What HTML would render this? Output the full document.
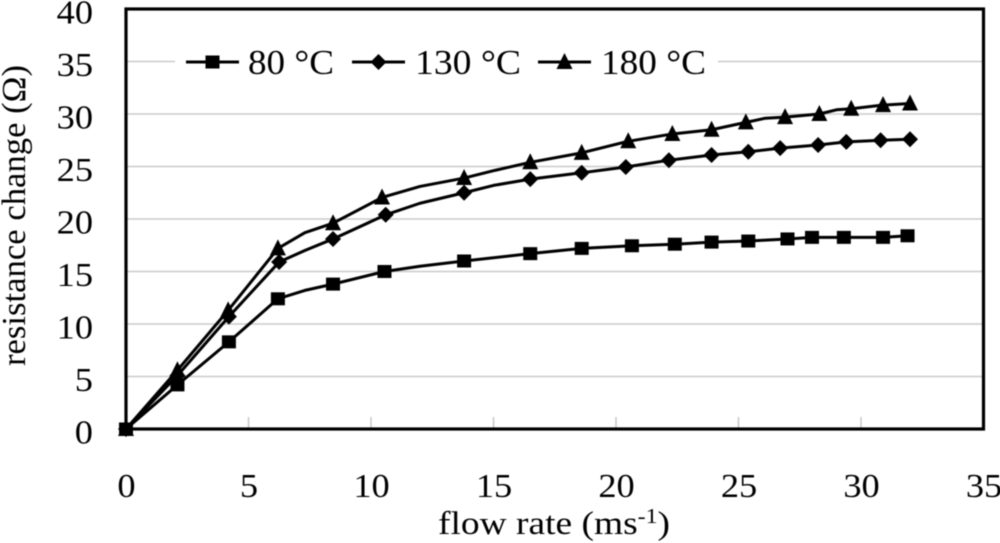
<!DOCTYPE html>
<html lang="en">
<head>
<meta charset="utf-8">
<title>Resistance change vs flow rate</title>
<style>
html,body{margin:0;padding:0;background:#fff;width:1000px;height:543px;overflow:hidden}
svg{display:block}
text{font-family:"Liberation Serif","DejaVu Serif",serif;fill:#000}
</style>
</head>
<body>
<svg id="chart" xmlns="http://www.w3.org/2000/svg" width="1000" height="543" viewBox="0 0 1000 543">
  <g id="plot" style="filter:blur(0.4px)"></g>
</svg>
<script>
const xTicks = [0, 5, 10, 15, 20, 25, 30, 35];
const yTicks = [0, 5, 10, 15, 20, 25, 30, 35, 40];

const flow80 = [0, 2.1, 4.2, 6.2, 7.3, 8.45, 10.55, 12, 13.8, 16.5, 18.6, 20.65, 22.4, 23.9, 25.4, 27, 28, 29.3, 30.9, 31.9];
const res80 = [0, 4.2, 8.3, 12.4, 13.2, 13.8, 15, 15.5, 16, 16.7, 17.2, 17.45, 17.6, 17.8, 17.9, 18.1, 18.25, 18.25, 18.25, 18.4];
const unmarked80 = [7.3, 12];

const flow130 = [0, 2.1, 4.2, 6.25, 7.3, 8.45, 10.6, 12, 13.8, 15, 16.5, 18.6, 20.4, 22.16, 23.9, 25.4, 26.7, 28.25, 29.4, 30.8, 32];
const res130 = [0, 5.1, 10.7, 15.9, 17.0, 18.1, 20.4, 21.5, 22.5, 23.2, 23.8, 24.4, 24.95, 25.6, 26.1, 26.4, 26.75, 27.05, 27.35, 27.5, 27.6];
const unmarked130 = [7.3, 12, 15];

const flow180 = [0, 2.1, 4.17, 6.2, 7.3, 8.45, 10.45, 12, 13.8, 15, 16.5, 18.6, 20.5, 22.3, 23.9, 25.3, 26.1, 26.9, 28.3, 29.0, 29.6, 30.9, 32];
const res180 = [0, 5.6, 11.3, 17.2, 18.7, 19.6, 22.05, 23.1, 23.9, 24.6, 25.4, 26.3, 27.4, 28.1, 28.5, 29.2, 29.6, 29.7, 30, 30.4, 30.5, 30.85, 31];
const unmarked180 = [7.3, 12, 15, 26.1, 29.0];

const legendLabels = ['80 °C', '130 °C', '180 °C'];

const NS = 'http://www.w3.org/2000/svg';
const plot = document.getElementById('plot');
const X0 = 126, X1 = 983.5, Y0 = 429, Y1 = 9;
const xScale = v => X0 + (v - 0) * (X1 - X0) / 35;
const yScale = v => Y0 - (v - 0) * (Y0 - Y1) / 40;

function make(tag, attrs, parent) {
  const el = document.createElementNS(NS, tag);
  for (const k in attrs) el.setAttribute(k, attrs[k]);
  (parent || plot).appendChild(el);
  return el;
}
function drawMarker(kind, cx, cy, parent) {
  if (kind === 'square') {
    return make('rect', {x: cx - 7, y: cy - 6.5, width: 14, height: 13, fill: '#000'}, parent);
  }
  if (kind === 'diamond') {
    return make('polygon', {points: [cx, cy - 8, cx + 8, cy, cx, cy + 8, cx - 8, cy].join(','), fill: '#000'}, parent);
  }
  return make('polygon', {points: [cx, cy - 9, cx + 8, cy + 7, cx - 8, cy + 7].join(','), fill: '#000'}, parent);
}

/* gridlines */
yTicks.slice(1, -1).forEach(t => {
  const g = make('line', {x1: X0, x2: X1, y1: yScale(t), y2: yScale(t), stroke: '#c9c9c9', 'stroke-width': 1.4});
  
  
});

/* x tick marks */
xTicks.slice(1, -1).forEach(t => {
  const k = make('line', {x1: xScale(t), x2: xScale(t), y1: Y0 - 12, y2: Y0, stroke: '#c0c0c0', 'stroke-width': 1.3});
  
  
});

/* frame */
const frame = make('rect', {x: X0, y: Y1, width: X1 - X0, height: Y0 - Y1, fill: 'none', stroke: '#000', 'stroke-width': 3.2});



/* tick labels */
const SX = 1.07;
yTicks.forEach(t => {
  const l = make('text', {'text-anchor': 'end', 'font-size': 34, transform: `translate(93,${yScale(t) + 14.5}) scale(${SX},1)`});
  l.textContent = t;
  
  
});
xTicks.forEach(t => {
  const l = make('text', {'text-anchor': 'middle', 'font-size': 34, transform: `translate(${xScale(t) + 0.5},497) scale(${SX},1)`});
  l.textContent = t;
  
  
});

/* axis titles */
const yTitle = make('text', {'font-size': 34, 'text-anchor': 'middle', textLength: 301, lengthAdjust: 'spacingAndGlyphs', transform: 'translate(25,215.5) rotate(-90)'});
yTitle.textContent = 'resistance change (Ω)';



const xTitle = make('text', {'font-size': 33, x: 438, y: 534, textLength: 232, lengthAdjust: 'spacingAndGlyphs'});


xTitle.appendChild(document.createTextNode('flow rate (ms'));
const sup = make('tspan', {dy: -11, 'font-size': 21}, xTitle);
sup.textContent = '-1';
const close = make('tspan', {dy: 11}, xTitle);
close.textContent = ')';

/* series */
function drawSeries(name, xs, ys, unmarked, kind) {
  const g = make('g', {});
  
  
  const line = make('polyline', {
    points: xs.map((x, i) => xScale(x) + ',' + yScale(ys[i])).join(' '),
    fill: 'none', stroke: '#000', 'stroke-width': 3, 'stroke-linejoin': 'round'
  }, g);
  
  
  xs.forEach((x, i) => {
    if (unmarked.indexOf(x) >= 0) return;
    const m = drawMarker(kind, xScale(x), yScale(ys[i]), g);
    
    
  });
}
drawSeries('180c', flow180, res180, unmarked180, 'triangle');
drawSeries('130c', flow130, res130, unmarked130, 'diamond');
drawSeries('80c', flow80, res80, unmarked80, 'square');

/* legend */
const legend = make('g', {});


const legendBg = make('rect', {x: 175, y: 44, width: 543, height: 36, fill: '#fff'}, legend);


const legendKinds = ['square', 'diamond', 'triangle'];
const legendLineStart = [186, 352, 538];
const legendTextStart = [248, 415, 601];
const legendTextLen = [86, 106, 105];
legendLabels.forEach((lab, i) => {
  const e = make('g', {}, legend);
  
  
  make('line', {x1: legendLineStart[i], x2: legendLineStart[i] + 53, y1: 62, y2: 62, stroke: '#000', 'stroke-width': 3}, e);
  drawMarker(legendKinds[i], legendLineStart[i] + 26.5, 62, e);
  const t = make('text', {x: legendTextStart[i], y: 74, 'font-size': 35, textLength: legendTextLen[i], lengthAdjust: 'spacingAndGlyphs'}, e);
  t.textContent = lab;
});
</script>
</body>
</html>
